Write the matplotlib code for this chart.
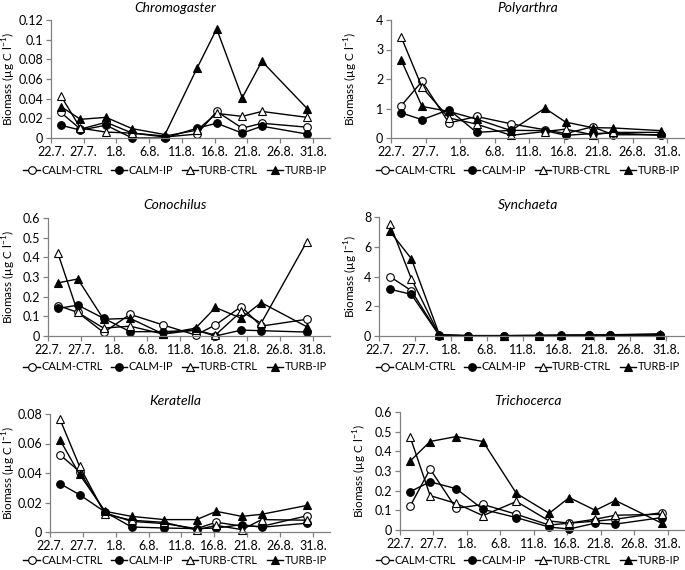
import matplotlib
matplotlib.use("Agg")
import matplotlib.pyplot as plt
from matplotlib.ticker import FuncFormatter

plt.rcParams['font.family'] = ['Lato', 'DejaVu Sans']
plt.rcParams['font.size'] = 9
plt.rcParams['mathtext.fontset'] = 'custom'
plt.rcParams['mathtext.rm'] = 'Lato'

# sampling days, counted from 22.7.
days = [1.5, 4.5, 8.4, 12.4, 17.4, 22.3, 25.3, 29.2, 32.2, 39.1]
tick_days = [0, 5, 10, 15, 20, 25, 30, 35, 40]
tick_labels = ['22.7.', '27.7.', '1.8.', '6.8.', '11.8.', '16.8.', '21.8.', '26.8.', '31.8.']

treatments = ['CALM-CTRL', 'CALM-IP', 'TURB-CTRL', 'TURB-IP']

chromogaster = {
    'CALM-CTRL': [0.026, 0.009, 0.016, 0.005, 0.001, 0.004, 0.027, 0.010, 0.015, 0.011],
    'CALM-IP':   [0.013, 0.008, 0.013, 0.0, 0.0, 0.010, 0.015, 0.005, 0.012, 0.004],
    'TURB-CTRL': [0.043, 0.010, 0.006, 0.005, 0.002, 0.008, 0.025, 0.022, 0.027, 0.021],
    'TURB-IP':   [0.032, 0.019, 0.021, 0.0095, 0.0035, 0.071, 0.111, 0.041, 0.078, 0.030],
}
polyarthra = {
    'CALM-CTRL': [1.10, 1.92, 0.51, 0.73, 0.48, 0.28, 0.15, 0.38, 0.11, 0.11],
    'CALM-IP':   [0.85, 0.62, 0.96, 0.19, 0.26, 0.25, 0.09, 0.15, 0.17, 0.09],
    'TURB-CTRL': [3.41, 1.72, 0.68, 0.47, 0.09, 0.22, 0.30, 0.11, 0.19, 0.19],
    'TURB-IP':   [2.63, 1.07, 0.90, 0.64, 0.25, 1.01, 0.54, 0.35, 0.34, 0.25],
}
conochilus = {
    'CALM-CTRL': [0.155, 0.12, 0.018, 0.11, 0.056, 0.005, 0.056, 0.15, 0.05, 0.085],
    'CALM-IP':   [0.14, 0.157, 0.09, 0.022, 0.022, 0.03, 0.0, 0.03, 0.027, 0.02],
    'TURB-CTRL': [0.42, 0.12, 0.04, 0.05, 0.01, 0.03, 0.005, 0.125, 0.065, 0.48],
    'TURB-IP':   [0.27, 0.29, 0.085, 0.09, 0.01, 0.04, 0.145, 0.09, 0.17, 0.047],
}
synchaeta = {
    'CALM-CTRL': [4.0, 3.05, 0.05, 0.02, 0.02, 0.03, 0.04, 0.05, 0.06, 0.05],
    'CALM-IP':   [3.15, 2.8, 0.03, 0.02, 0.02, 0.03, 0.03, 0.04, 0.05, 0.04],
    'TURB-CTRL': [7.55, 3.85, 0.05, 0.02, 0.02, 0.03, 0.04, 0.05, 0.06, 0.08],
    'TURB-IP':   [7.05, 5.2, 0.1, 0.03, 0.03, 0.04, 0.06, 0.07, 0.08, 0.15],
}
keratella = {
    'CALM-CTRL': [0.0524, 0.041, 0.013, 0.0072, 0.0057, 0.0023, 0.0066, 0.004, 0.0038, 0.011],
    'CALM-IP':   [0.0328, 0.0253, 0.0135, 0.0034, 0.0027, 0.0023, 0.0027, 0.005, 0.0032, 0.006],
    'TURB-CTRL': [0.0766, 0.0445, 0.012, 0.008, 0.0065, 0.0014, 0.0045, 0.0016, 0.0084, 0.008],
    'TURB-IP':   [0.0626, 0.039, 0.014, 0.0106, 0.0084, 0.0084, 0.014, 0.0106, 0.012, 0.018],
}
trichocerca = {
    'CALM-CTRL': [0.12, 0.31, 0.11, 0.13, 0.08, 0.025, 0.035, 0.045, 0.055, 0.088],
    'CALM-IP':   [0.195, 0.245, 0.21, 0.105, 0.063, 0.015, 0.005, 0.035, 0.03, 0.063],
    'TURB-CTRL': [0.475, 0.175, 0.135, 0.073, 0.145, 0.046, 0.035, 0.055, 0.075, 0.08],
    'TURB-IP':   [0.35, 0.45, 0.475, 0.45, 0.186, 0.085, 0.165, 0.10, 0.15, 0.035],
}

species = ['Chromogaster', 'Polyarthra', 'Conochilus', 'Synchaeta', 'Keratella', 'Trichocerca']
data = [chromogaster, polyarthra, conochilus, synchaeta, keratella, trichocerca]
ymax = [0.12, 4, 0.6, 8, 0.08, 0.6]
ystep = [0.02, 1, 0.1, 2, 0.02, 0.1]
ylabels = [r'Biomass (µg C l$^{-1}$)'] * 6
ylabels[3] = r'Biomass (µg l$^{-1}$)'

styles = {
    'CALM-CTRL': dict(marker='o', mfc='white'),
    'CALM-IP':   dict(marker='o', mfc='black'),
    'TURB-CTRL': dict(marker='^', mfc='white'),
    'TURB-IP':   dict(marker='^', mfc='black'),
}

W, H = 685, 570
fig = plt.figure(figsize=(W / 100, H / 100), dpi=100)

# panel boxes in pixels: left, right, top, bottom
boxes = [(51, 330, 20, 138), (391, 685, 20, 138),
         (48, 330, 218, 336), (379, 685, 217, 336),
         (50, 330, 414, 532), (400, 685, 412, 530)]
ylabel_x = [18, 360, 18, 360, 18, 369]
title_y = [8, 8, 205, 205, 401, 401]
legend_y = [170, 170, 367, 367, 560, 560]
col_center = [175, 528]

for i, name in enumerate(species):
    l, r, t, b = boxes[i]
    ax = fig.add_axes([l / W, 1 - b / H, (r - l) / W, (b - t) / H])
    for tr in treatments:
        ax.plot(days, data[i][tr], color='black', lw=1.0, ms=5.5,
                mec='black', mew=0.8, label=tr, clip_on=False, **styles[tr])
    ax.set_xlim(0, 42.6)
    ax.set_ylim(0, ymax[i])
    n = int(round(ymax[i] / ystep[i]))
    ax.set_yticks([k * ystep[i] for k in range(n + 1)])
    ax.yaxis.set_major_formatter(FuncFormatter(lambda v, p: '%g' % round(v, 4)))
    ax.set_xticks(tick_days)
    ax.set_xticklabels(tick_labels)
    ax.spines['top'].set_visible(False)
    ax.spines['right'].set_visible(False)
    for s in ('left', 'bottom'):
        ax.spines[s].set_color('#808080')
        ax.spines[s].set_linewidth(0.9)
    ax.tick_params(direction='out', length=3.5, width=0.9, color='#808080',
                   labelsize=9, pad=2)
    ax.set_ylabel(ylabels[i], fontsize=8.5)
    ax.yaxis.set_label_coords((ylabel_x[i] - l) / (r - l), 0.5)

    cx = col_center[i % 2] / W
    fig.text(cx, 1 - title_y[i] / H, name, ha='center', va='center',
             fontsize=10, style='italic')
    handles, labs = ax.get_legend_handles_labels()
    fig.legend(handles, labs, loc='center', bbox_to_anchor=(cx, 1 - legend_y[i] / H),
               ncol=4, frameon=False, fontsize=8, handlelength=1.5,
               handletextpad=0.1, columnspacing=0.75, borderaxespad=0)

fig.savefig('out.png', dpi=100)
